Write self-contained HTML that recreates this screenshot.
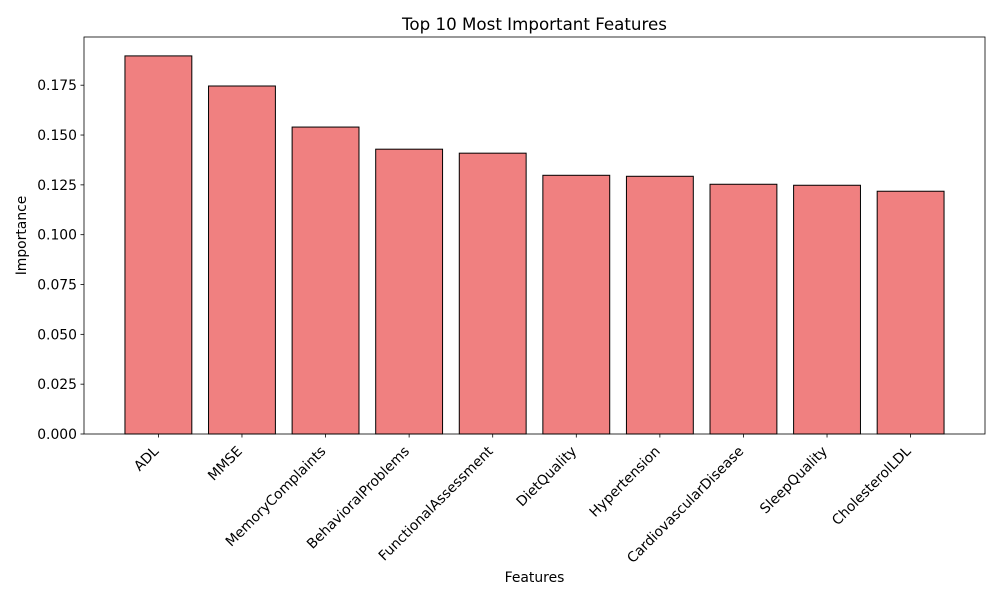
<!DOCTYPE html>
<html><head><meta charset="utf-8"><style>
body{margin:0;background:#fff;}
svg text{font-family:"DejaVu Sans","Liberation Sans",sans-serif;fill:#000;}
</style></head><body>
<svg id="chart" width="1000" height="600" xmlns="http://www.w3.org/2000/svg">
<rect width="1000" height="600" fill="#fff"/>
<text x="534.5" y="30" font-size="16.7" text-anchor="middle">Top 10 Most Important Features</text>
<g id="bars"></g>
<g id="axes"></g>
<text x="534.5" y="582" font-size="13.9" text-anchor="middle">Features</text>
<text transform="translate(26,235.5) rotate(-90)" font-size="13.9" text-anchor="middle">Importance</text>
</svg>
<script>
const categories = ["ADL","MMSE","MemoryComplaints","BehavioralProblems","FunctionalAssessment","DietQuality","Hypertension","CardiovascularDisease","SleepQuality","CholesterolLDL"];
const importance = [0.1897,0.1746,0.1540,0.1429,0.1409,0.1298,0.1293,0.1253,0.1248,0.1218];
const yTicks = [0,0.025,0.05,0.075,0.1,0.125,0.15,0.175];
const yTickLabels = ["0.000","0.025","0.050","0.075","0.100","0.125","0.150","0.175"];

const L=84,R=985,T=37,B=434;
const n=categories.length;
const xmin=-0.4-0.05*(n-0.2), xmax=(n-1)+0.4+0.05*(n-0.2);
const ymax=Math.max(...importance)*1.05;
const xs=v=>L+(v-xmin)/(xmax-xmin)*(R-L);
const ys=v=>B-v/ymax*(B-T);
const NS="http://www.w3.org/2000/svg";
const bars=document.getElementById('bars'), axes=document.getElementById('axes');
function mk(tag,attrs,parent){const e=document.createElementNS(NS,tag);for(const k in attrs)e.setAttribute(k,attrs[k]);parent.appendChild(e);return e;}
importance.forEach((v,i)=>{
  const x0=xs(i-0.4),x1=xs(i+0.4);
  const r=mk('rect',{x:x0,y:ys(v),width:x1-x0,height:B-ys(v),fill:'#f08080',stroke:'#000','stroke-width':1},bars);
  
  
  const cx=xs(i);
  const t=mk('line',{x1:cx,x2:cx,y1:B,y2:B+3.5,stroke:'#000','stroke-width':0.8},axes);
  
  
  const lb=mk('text',{transform:`translate(${cx+1},${B+18}) rotate(-45)`,'font-size':13.9,'text-anchor':'end'},axes);
  lb.textContent=categories[i];
  
  
});
yTicks.forEach((v,i)=>{
  const y=ys(v);
  const t=mk('line',{x1:L-3.5,x2:L,y1:y,y2:y,stroke:'#000','stroke-width':0.8},axes);
  
  
  const lb=mk('text',{x:L-7,y:y+5,'font-size':13.9,'text-anchor':'end'},axes);
  lb.textContent=yTickLabels[i];
  
  
});
const f=mk('rect',{x:L,y:T,width:R-L,height:B-T,fill:'none',stroke:'#000','stroke-width':0.8},axes);


</script>
</body></html>
